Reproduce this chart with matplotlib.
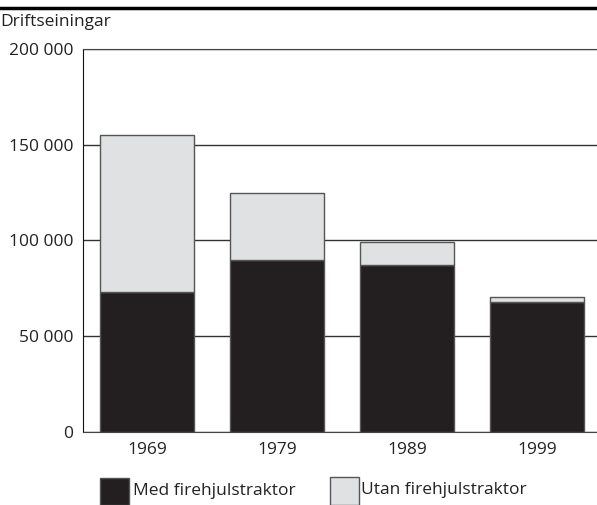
import matplotlib.pyplot as plt
from matplotlib.patches import Rectangle
from matplotlib.lines import Line2D

# Driftseiningar med / utan firehjulstraktor
years = ['1969', '1979', '1989', '1999']
med = [73000, 90000, 87000, 68000]
utan = [82000, 35000, 12000, 2500]
yticks = [0, 50000, 100000, 150000, 200000]

dark = '#231f20'
light = '#e0e1e3'
edge = '#555555'
fs = 12.5

plt.rcParams['font.family'] = ['Open Sans', 'DejaVu Sans']

fig = plt.figure(figsize=(5.97, 5.05), dpi=100)
ax = fig.add_axes([83 / 597, 1 - 432 / 505, 514 / 597, 383 / 505])

x = [0, 1, 2, 3]
ax.bar(x, med, width=0.723, color=dark, edgecolor=edge, linewidth=1, zorder=3)
ax.bar(x, utan, bottom=med, width=0.723, color=light, edgecolor=edge, linewidth=1, zorder=3)

ax.set_xlim(-0.492, 3.462)
ax.set_ylim(0, 200000)
ax.set_yticks(yticks)
ax.set_yticklabels([f'{v:,}'.replace(',', ' ') for v in yticks])
ax.set_xticks(x)
ax.set_xticklabels(years)
ax.tick_params(length=0, labelsize=fs, colors='#222222')
ax.tick_params(axis='y', pad=7)
ax.tick_params(axis='x', pad=7)
ax.yaxis.grid(True, color='#333333', linewidth=1, zorder=0)

ax.spines['right'].set_visible(False)
ax.spines['left'].set_color('#111111')
ax.spines['top'].set_color('#444444')
ax.spines['bottom'].set_color('#444444')

fig.text(0.0, 1 - 22 / 505, 'Driftseiningar', fontsize=fs, color='#222222', va='center', ha='left')

# thick rule at the top
fig.add_artist(Line2D([0, 1], [1 - 8 / 505, 1 - 8 / 505], color='black', linewidth=2.5))

# legend
fig.add_artist(Rectangle((100 / 597, 0), 29 / 597, 27 / 505, facecolor=dark, edgecolor=edge, linewidth=1))
fig.text(133 / 597, 1 - 491 / 505, 'Med firehjulstraktor', fontsize=fs, va='center', color='#222222')
fig.add_artist(Rectangle((330 / 597, 0), 29 / 597, 28 / 505, facecolor=light, edgecolor=edge, linewidth=1))
fig.text(361 / 597, 1 - 490 / 505, 'Utan firehjulstraktor', fontsize=fs, va='center', color='#222222')

fig.savefig('out.png', dpi=100)
